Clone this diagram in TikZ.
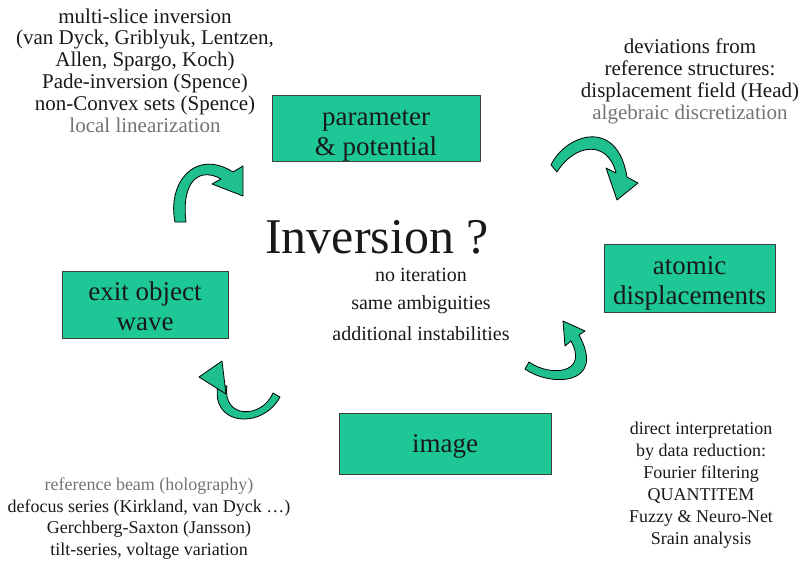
\documentclass[tikz,border=0pt]{standalone}
\usepackage{fontspec}
\setmainfont{Liberation Serif}
\definecolor{boxgreen}{RGB}{30,200,150}
\definecolor{arrowgreen}{RGB}{32,192,142}
\definecolor{txt}{RGB}{25,25,25}
\definecolor{graytxt}{RGB}{115,115,115}
\begin{document}
\begin{tikzpicture}[x=1pt,y=-1pt,
  box/.style={draw=black!75, line width=1pt, fill=boxgreen, inner sep=0pt},
  boxtext/.style={inner sep=0pt, align=center, font=\fontsize{27}{30}\selectfont, text=txt},
  notebig/.style={anchor=base, inner sep=0pt, font=\fontsize{21}{22}\selectfont, text=txt},
  notesmall/.style={anchor=base, inner sep=0pt, font=\fontsize{18}{22}\selectfont, text=txt},
  centre/.style={anchor=base, inner sep=0pt, font=\fontsize{20}{22}\selectfont, text=txt},
  curvarrow/.style={fill=arrowgreen, draw=black, line width=0.8pt, line join=round}
]
\useasboundingbox (0,0) rectangle (802,562);

% boxes
\node[box, minimum width=208pt, minimum height=66pt] (param) at (376,128) {};
\node[box, minimum width=171pt, minimum height=68pt] (atomic) at (689.5,278) {};
\node[box, minimum width=166pt, minimum height=67pt] (exit) at (145,304.5) {};
\node[box, minimum width=212pt, minimum height=61pt] (image) at (445,443.5) {};
\node[boxtext] (paramtext) at (376,136) {parameter\\\& potential};
\node[boxtext] (atomictext) at (689.5,283.5) {atomic\\displacements};
\node[boxtext] (exittext) at (145,306) {exit object\\wave};
\node[boxtext] (imagetext) at (445,446.5) {image};

% centre
\node[anchor=base, inner sep=0pt, font=\fontsize{50}{55}\selectfont, text=txt] (inv) at (377,253) {Inversion ?};
\node[centre] (c1) at (421,281) {no iteration};
\node[centre] (c2) at (421,309) {same ambiguities};
\node[centre] (c3) at (421,340) {additional instabilities};

% top-left notes
\foreach \t [count=\i] in {multi-slice inversion, {(van Dyck, Griblyuk, Lentzen,}, {Allen, Spargo, Koch)}, Pade-inversion (Spence), non-Convex sets (Spence), {\color{graytxt}local linearization}}
  \node[notebig] (tl\i) at (145,{23+(\i-1)*21.8}) {\t};

% top-right notes
\foreach \t [count=\i] in {deviations from, reference structures:, displacement field (Head), {\color{graytxt}algebraic discretization}}
  \node[notebig] (tr\i) at (690,{53+(\i-1)*22}) {\t};

% bottom-left notes
\foreach \t [count=\i] in {{\color{graytxt}reference beam (holography)}, {defocus series (Kirkland, van Dyck …)}, Gerchberg-Saxton (Jansson), {tilt-series, voltage variation}}
  \node[notesmall] (bl\i) at (149,{490.5+(\i-1)*21.7}) {\t};

% bottom-right notes
\foreach \t [count=\i] in {direct interpretation, by data reduction:, Fourier filtering, QUANTITEM, Fuzzy \& Neuro-Net, Srain analysis}
  \node[notesmall] (br\i) at (701,{434+(\i-1)*22}) {\t};

% curved arrows
% A: top-left
\draw[curvarrow] (175,222) .. controls (167,183) and (195,148) .. (233,172)
  -- (243,166) -- (243,196) -- (212,184) -- (221,179)
  .. controls (200,167) and (181,180) .. (186,222) -- cycle;
% B: top-right
\draw[curvarrow] (551,165) .. controls (565,135) and (617,116) .. (627,177)
  -- (638,183) -- (617,200) -- (606,168) -- (616,173)
  .. controls (608,140) and (575,143) .. (557,172) -- cycle;
% C: bottom-right
\draw[curvarrow] (525,369) .. controls (550,387) and (607,386) .. (579,335)
  -- (585,331) -- (563,321) -- (565,346) -- (571,341)
  .. controls (589,374) and (550,377) .. (529,362) -- cycle;
% D: bottom-left
\draw[curvarrow] (280,397) .. controls (262,430) and (210,426) .. (218,385)
  -- (227,386) .. controls (222,419) and (262,419) .. (273,393) -- cycle;
\draw[curvarrow] (199,377) -- (222,361) -- (226,394) -- cycle;
\end{tikzpicture}
\end{document}
